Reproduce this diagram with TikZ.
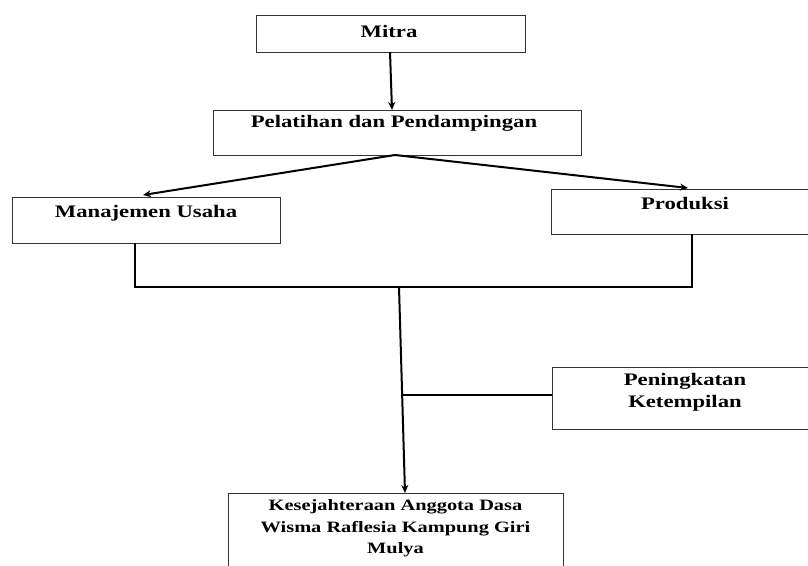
\documentclass[tikz,border=0pt]{standalone}
\usepackage{fontspec}
\newfontfamily\tfont{Liberation Serif}[FakeStretch=1.29]
\usetikzlibrary{arrows.meta}
\begin{document}
\begin{tikzpicture}[x=1pt,y=-1pt,
  box/.style={draw=black!80, line width=1.2pt, rectangle, inner sep=0pt, anchor=north west},
  txt/.style={inner sep=0pt, align=center, font=\tfont\bfseries\fontsize{17.6}{22}\selectfont},
  stxt/.style={inner sep=0pt, align=center, font=\tfont\bfseries\fontsize{15.8}{21.7}\selectfont},
  conn/.style={line width=2pt, draw=black},
  arr/.style={conn, -{Stealth[length=8pt,width=7pt]}}]
\useasboundingbox (0,0) rectangle (808,565);
\clip (0,0) rectangle (808,565);
% boxes
\node[box, minimum width=269pt, minimum height=37pt] (mitra) at (256,15) {};
\node[box, minimum width=368pt, minimum height=45pt] (pel) at (213,110) {};
\node[box, minimum width=268pt, minimum height=46pt] (man) at (12,197) {};
\node[box, minimum width=268pt, minimum height=45pt] (prod) at (551,189) {};
\node[box, minimum width=266pt, minimum height=62pt] (pen) at (552,367) {};
\node[box, minimum width=335pt, minimum height=82pt] (kes) at (228,493) {};
% texts
\node[txt] (mitraT) at (389,31) {Mitra};
\node[txt] (pelT) at (394,123) {Pelatihan dan Pendampingan};
\node[txt] (manT) at (146,213) {Manajemen Usaha};
\node[txt] (prodT) at (685,203) {Produksi};
\node[txt] (penT) at (685,392) {Peningkatan\\Ketempilan};
\node[stxt] (kesT) at (395.5,528.5) {Kesejahteraan Anggota Dasa\\Wisma Raflesia Kampung Giri\\Mulya};
% coordinates
\coordinate (m1) at (390,52);
\coordinate (p1) at (392,110);
\coordinate (p0) at (395,155);
\coordinate (ma) at (143,195);
\coordinate (pa) at (688,188);
\coordinate (mb) at (135,243);
\coordinate (mc) at (135,287);
\coordinate (pb) at (692,234);
\coordinate (pc) at (692,287);
\coordinate (v0) at (399,287);
\coordinate (vb) at (402.8,395);
\coordinate (pl) at (552,395);
\coordinate (k1) at (405,493);
% connectors
\draw[arr] (m1) -- (p1);
\draw[arr] (p0) -- (ma);
\draw[arr] (p0) -- (pa);
\draw[conn] (mb) -- (mc) -- (pc) -- (pb);
\draw[arr] (v0) -- (k1);
\draw[conn] (vb) -- (pl);
\end{tikzpicture}
\end{document}
